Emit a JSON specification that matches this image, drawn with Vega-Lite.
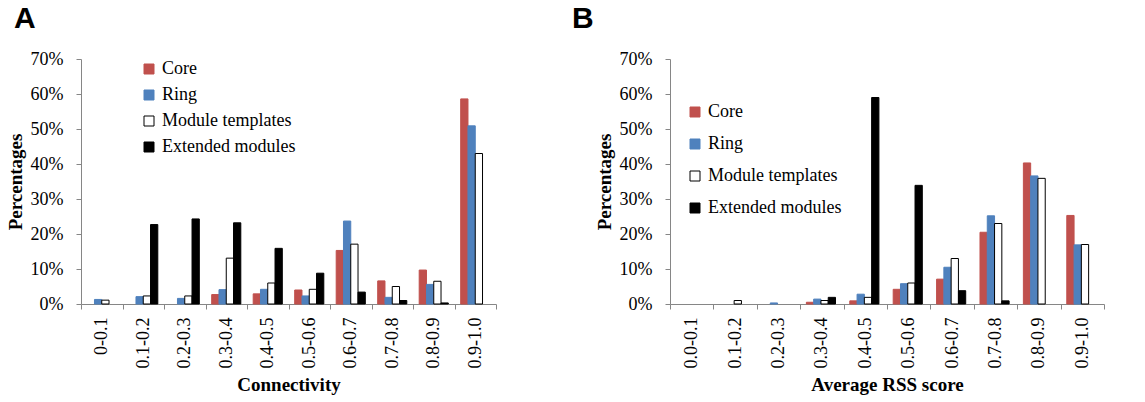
{
  "$schema": "https://vega.github.io/schema/vega-lite/v6.json",
  "padding": {"left": 6, "top": 4, "right": 5, "bottom": 2},
  "background": "white",
  "config": {
    "view": {"stroke": null},
    "axis": {
      "domainColor": "#868686", "tickColor": "#868686", "tickSize": 5, "grid": false,
      "labelFontSize": 18, "labelColor": "black",
      "titleFontSize": 19, "titleFontWeight": "bold", "titleColor": "black"
    },
    "legend": {
      "orient": "none", "symbolType": "square", "symbolSize": 100, "symbolStrokeWidth": 1,
      "labelFontSize": 18, "labelColor": "black", "labelOffset": 4,
      "padding": 0
    },
    "title": {"font": "Liberation Sans", "fontSize": 30, "fontWeight": "bold", "anchor": "start", "color": "black", "frame": "group"}
  },
  "datasets": {
    "conn": [
      {"cat": "0-0.1", "series": "Core", "value": 0},
      {"cat": "0-0.1", "series": "Ring", "value": 1.3},
      {"cat": "0-0.1", "series": "Module templates", "value": 1.1},
      {"cat": "0-0.1", "series": "Extended modules", "value": 0},
      {"cat": "0.1-0.2", "series": "Core", "value": 0},
      {"cat": "0.1-0.2", "series": "Ring", "value": 2.1},
      {"cat": "0.1-0.2", "series": "Module templates", "value": 2.3},
      {"cat": "0.1-0.2", "series": "Extended modules", "value": 22.7},
      {"cat": "0.2-0.3", "series": "Core", "value": 0},
      {"cat": "0.2-0.3", "series": "Ring", "value": 1.6},
      {"cat": "0.2-0.3", "series": "Module templates", "value": 2.3},
      {"cat": "0.2-0.3", "series": "Extended modules", "value": 24.3},
      {"cat": "0.3-0.4", "series": "Core", "value": 2.7},
      {"cat": "0.3-0.4", "series": "Ring", "value": 4.1},
      {"cat": "0.3-0.4", "series": "Module templates", "value": 13.1},
      {"cat": "0.3-0.4", "series": "Extended modules", "value": 23.2},
      {"cat": "0.4-0.5", "series": "Core", "value": 2.9},
      {"cat": "0.4-0.5", "series": "Ring", "value": 4.2},
      {"cat": "0.4-0.5", "series": "Module templates", "value": 6.0},
      {"cat": "0.4-0.5", "series": "Extended modules", "value": 15.9},
      {"cat": "0.5-0.6", "series": "Core", "value": 4.0},
      {"cat": "0.5-0.6", "series": "Ring", "value": 2.3},
      {"cat": "0.5-0.6", "series": "Module templates", "value": 4.2},
      {"cat": "0.5-0.6", "series": "Extended modules", "value": 8.8},
      {"cat": "0.6-0.7", "series": "Core", "value": 15.3},
      {"cat": "0.6-0.7", "series": "Ring", "value": 23.7},
      {"cat": "0.6-0.7", "series": "Module templates", "value": 17.1},
      {"cat": "0.6-0.7", "series": "Extended modules", "value": 3.4},
      {"cat": "0.7-0.8", "series": "Core", "value": 6.6},
      {"cat": "0.7-0.8", "series": "Ring", "value": 1.9},
      {"cat": "0.7-0.8", "series": "Module templates", "value": 5.0},
      {"cat": "0.7-0.8", "series": "Extended modules", "value": 1.0},
      {"cat": "0.8-0.9", "series": "Core", "value": 9.7},
      {"cat": "0.8-0.9", "series": "Ring", "value": 5.6},
      {"cat": "0.8-0.9", "series": "Module templates", "value": 6.5},
      {"cat": "0.8-0.9", "series": "Extended modules", "value": 0.3},
      {"cat": "0.9-1.0", "series": "Core", "value": 58.6},
      {"cat": "0.9-1.0", "series": "Ring", "value": 50.9},
      {"cat": "0.9-1.0", "series": "Module templates", "value": 43.0},
      {"cat": "0.9-1.0", "series": "Extended modules", "value": 0}
    ],
    "rss": [
      {"cat": "0.0-0.1", "series": "Core", "value": 0},
      {"cat": "0.0-0.1", "series": "Ring", "value": 0},
      {"cat": "0.0-0.1", "series": "Module templates", "value": 0},
      {"cat": "0.0-0.1", "series": "Extended modules", "value": 0},
      {"cat": "0.1-0.2", "series": "Core", "value": 0},
      {"cat": "0.1-0.2", "series": "Ring", "value": 0},
      {"cat": "0.1-0.2", "series": "Module templates", "value": 1.0},
      {"cat": "0.1-0.2", "series": "Extended modules", "value": 0},
      {"cat": "0.2-0.3", "series": "Core", "value": 0},
      {"cat": "0.2-0.3", "series": "Ring", "value": 0.3},
      {"cat": "0.2-0.3", "series": "Module templates", "value": 0},
      {"cat": "0.2-0.3", "series": "Extended modules", "value": 0},
      {"cat": "0.3-0.4", "series": "Core", "value": 0.5},
      {"cat": "0.3-0.4", "series": "Ring", "value": 1.4},
      {"cat": "0.3-0.4", "series": "Module templates", "value": 1.0},
      {"cat": "0.3-0.4", "series": "Extended modules", "value": 1.9},
      {"cat": "0.4-0.5", "series": "Core", "value": 0.9},
      {"cat": "0.4-0.5", "series": "Ring", "value": 2.8},
      {"cat": "0.4-0.5", "series": "Module templates", "value": 1.9},
      {"cat": "0.4-0.5", "series": "Extended modules", "value": 59.0},
      {"cat": "0.5-0.6", "series": "Core", "value": 4.2},
      {"cat": "0.5-0.6", "series": "Ring", "value": 5.8},
      {"cat": "0.5-0.6", "series": "Module templates", "value": 6.0},
      {"cat": "0.5-0.6", "series": "Extended modules", "value": 33.9},
      {"cat": "0.6-0.7", "series": "Core", "value": 7.1},
      {"cat": "0.6-0.7", "series": "Ring", "value": 10.5},
      {"cat": "0.6-0.7", "series": "Module templates", "value": 13.0},
      {"cat": "0.6-0.7", "series": "Extended modules", "value": 3.8},
      {"cat": "0.7-0.8", "series": "Core", "value": 20.5},
      {"cat": "0.7-0.8", "series": "Ring", "value": 25.2},
      {"cat": "0.7-0.8", "series": "Module templates", "value": 23.0},
      {"cat": "0.7-0.8", "series": "Extended modules", "value": 0.9},
      {"cat": "0.8-0.9", "series": "Core", "value": 40.3},
      {"cat": "0.8-0.9", "series": "Ring", "value": 36.6},
      {"cat": "0.8-0.9", "series": "Module templates", "value": 35.9},
      {"cat": "0.8-0.9", "series": "Extended modules", "value": 0},
      {"cat": "0.9-1.0", "series": "Core", "value": 25.3},
      {"cat": "0.9-1.0", "series": "Ring", "value": 16.9},
      {"cat": "0.9-1.0", "series": "Module templates", "value": 17.0},
      {"cat": "0.9-1.0", "series": "Extended modules", "value": 0}
    ]
  },
  "bounds": "flush",
  "spacing": 174,
  "resolve": {
    "scale": {"fill": "independent", "stroke": "independent"},
    "legend": {"fill": "independent", "stroke": "independent"}
  },
  "hconcat": [
    {
      "title": {"text": "A", "dx": -67, "offset": 16},
      "width": 415,
      "height": 245,
      "data": {"name": "conn"},
      "transform": [{"filter": "datum.value > 0"}],
      "mark": {"type": "bar", "strokeWidth": 1},
      "encoding": {
        "x": {
          "field": "cat", "type": "nominal",
          "scale": {"domain": ["0-0.1", "0.1-0.2", "0.2-0.3", "0.3-0.4", "0.4-0.5", "0.5-0.6", "0.6-0.7", "0.7-0.8", "0.8-0.9", "0.9-1.0"], "paddingInner": 0, "paddingOuter": 0},
          "axis": {"title": "Connectivity", "titleFont": "Liberation Serif", "labelFont": "Liberation Serif", "labelAngle": 270, "tickBand": "extent", "labelPadding": 8, "titlePadding": 8}
        },
        "xOffset": {
          "field": "series", "type": "nominal",
          "scale": {"domain": ["Core", "Ring", "Module templates", "Extended modules"], "paddingInner": 0, "paddingOuter": 0.85}
        },
        "y": {
          "field": "value", "type": "quantitative",
          "scale": {"domain": [0, 70]},
          "axis": {"title": "Percentages", "titleFont": "Liberation Serif", "labelFont": "Liberation Serif", "values": [0, 10, 20, 30, 40, 50, 60, 70], "labelExpr": "datum.value + '%'", "labelPadding": 13, "titlePadding": 5}
        },
        "fill": {
          "field": "series", "type": "nominal",
          "scale": {"domain": ["Core", "Ring", "Module templates", "Extended modules"], "range": ["#C0504D", "#4F81BD", "#FFFFFF", "#000000"]},
          "legend": {"title": null, "labelFont": "Liberation Serif", "legendX": 59, "legendY": 1, "rowPadding": 8}
        },
        "stroke": {
          "field": "series", "type": "nominal",
          "scale": {"domain": ["Core", "Ring", "Module templates", "Extended modules"], "range": ["#C0504D", "#4F81BD", "#000000", "#000000"]},
          "legend": {"title": null, "labelFont": "Liberation Serif", "legendX": 59, "legendY": 1, "rowPadding": 8}
        }
      }
    },
    {
      "title": {"text": "B", "dx": -98, "offset": 16},
      "width": 434,
      "height": 245,
      "data": {"name": "rss"},
      "transform": [{"filter": "datum.value > 0"}],
      "mark": {"type": "bar", "strokeWidth": 1},
      "encoding": {
        "x": {
          "field": "cat", "type": "nominal",
          "scale": {"domain": ["0.0-0.1", "0.1-0.2", "0.2-0.3", "0.3-0.4", "0.4-0.5", "0.5-0.6", "0.6-0.7", "0.7-0.8", "0.8-0.9", "0.9-1.0"], "paddingInner": 0, "paddingOuter": 0},
          "axis": {"title": "Average RSS score", "titleFont": "Liberation Serif", "labelFont": "Liberation Serif", "labelAngle": 270, "tickBand": "extent", "labelPadding": 8, "titlePadding": 8}
        },
        "xOffset": {
          "field": "series", "type": "nominal",
          "scale": {"domain": ["Core", "Ring", "Module templates", "Extended modules"], "paddingInner": 0, "paddingOuter": 0.7}
        },
        "y": {
          "field": "value", "type": "quantitative",
          "scale": {"domain": [0, 70]},
          "axis": {"title": "Percentages", "titleFont": "Liberation Serif", "labelFont": "Liberation Serif", "values": [0, 10, 20, 30, 40, 50, 60, 70], "labelExpr": "datum.value + '%'", "labelPadding": 13, "titlePadding": 5}
        },
        "fill": {
          "field": "series", "type": "nominal",
          "scale": {"domain": ["Core", "Ring", "Module templates", "Extended modules"], "range": ["#C0504D", "#4F81BD", "#FFFFFF", "#000000"]},
          "legend": {"title": null, "labelFont": "Liberation Serif", "legendX": 16, "legendY": 44, "rowPadding": 14}
        },
        "stroke": {
          "field": "series", "type": "nominal",
          "scale": {"domain": ["Core", "Ring", "Module templates", "Extended modules"], "range": ["#C0504D", "#4F81BD", "#000000", "#000000"]},
          "legend": {"title": null, "labelFont": "Liberation Serif", "legendX": 16, "legendY": 44, "rowPadding": 14}
        }
      }
    }
  ]
}
